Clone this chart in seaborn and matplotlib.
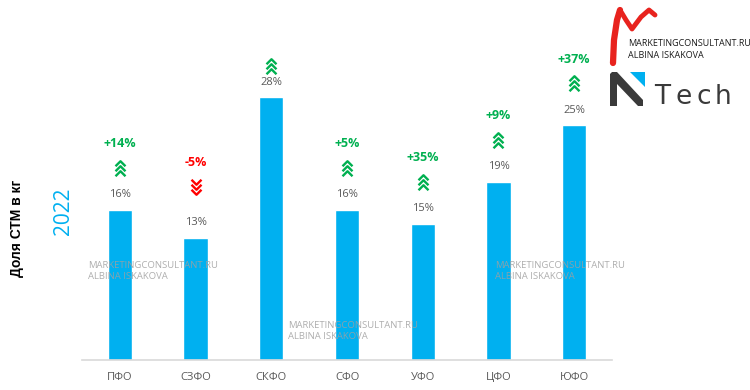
import matplotlib
matplotlib.use("Agg")
import matplotlib.pyplot as plt
import matplotlib.transforms as mtransforms
from matplotlib.path import Path
from matplotlib.lines import Line2D
from matplotlib.patches import Polygon
import seaborn as sns
import pandas as pd

# ---- data ----
regions = ["ПФО", "СЗФО", "СКФО", "СФО", "УФО", "ЦФО", "ЮФО"]
shares = [16, 13, 28, 16, 14.5, 19, 25]
share_labels = ["16%", "13%", "28%", "16%", "15%", "19%", "25%"]
changes = ["+14%", "-5%", None, "+5%", "+35%", "+9%", "+37%"]
directions = ["up", "down", "up", "up", "up", "up", "up"]

BLUE = "#00B0F0"
GREEN = "#00B050"
RED = "#FF0000"
GRAY = "#595959"

sns.set_theme(style="white")
plt.rcParams["font.family"] = ["Open Sans", "DejaVu Sans"]

W, H = 750, 390
fig = plt.figure(figsize=(W / 100, H / 100), dpi=100)
ax = fig.add_axes([82 / W, 30 / H, 530 / W, 340 / H])

df = pd.DataFrame({"region": regions, "share": shares})
sns.barplot(data=df, x="region", y="share", color=BLUE, saturation=1,
            width=0.32, ax=ax)
ax.set_xlim(-0.5, len(regions) - 0.5)
ax.set_ylim(0, 340 / 9.39)
ax.set_xlabel("")
ax.set_ylabel("")
ax.set_yticks([])
for s in ["top", "left", "right"]:
    ax.spines[s].set_visible(False)
ax.spines["bottom"].set_color("#D9D9D9")
ax.spines["bottom"].set_linewidth(1.2)
ax.tick_params(axis="x", length=0, pad=9, labelsize=8, labelcolor=GRAY)

PX = 0.72  # points per pixel

up_path = Path([(-1, -0.55), (0, 0.45), (1, -0.55)],
               [Path.MOVETO, Path.LINETO, Path.LINETO])
down_path = Path([(-1, 0.55), (0, -0.45), (1, 0.55)],
                 [Path.MOVETO, Path.LINETO, Path.LINETO])


def draw_chevrons(x, y, off_px, direction):
    color = GREEN if direction == "up" else RED
    path = up_path if direction == "up" else down_path
    for d in (-5, 0, 5):
        tr = mtransforms.offset_copy(ax.transData, fig=fig,
                                     y=(off_px + d) * PX, units="points")
        ax.plot([x], [y], marker=path, markersize=10 * PX, linestyle="none",
                markerfacecolor="none", markeredgecolor=color,
                markeredgewidth=1.7, transform=tr, clip_on=False)


for i, (v, lab, ch, dr) in enumerate(zip(shares, share_labels, changes, directions)):
    ax.annotate(lab, xy=(i, v), xytext=(0, 15 * PX), textcoords="offset points",
                ha="center", va="center", fontsize=8, color=GRAY)
    if ch is None:
        arrow_off = 31
    else:
        arrow_off = 42 if dr == "up" else 51
        ch_off = arrow_off + 24
        ax.annotate(ch, xy=(i, v), xytext=(0, ch_off * PX), textcoords="offset points",
                    ha="center", va="center", fontsize=9, fontweight="bold",
                    color=GREEN if dr == "up" else RED)
    draw_chevrons(i, v, arrow_off, dr)

# left side labels
fig.text(17 / W, 1 - 228 / H, "Доля СТМ в кг", rotation=90, ha="center", va="center",
         fontsize=10, fontweight="bold", color="black",
         family=["Liberation Sans", "DejaVu Sans"])
fig.text(63 / W, 1 - 211 / H, "2022", rotation=90, ha="center", va="center",
         fontsize=15, color=BLUE)

# watermarks
wm = "MARKETINGCONSULTANT.RU\nALBINA ISKAKOVA"
for (px, py) in [(88, 271), (288, 331), (495, 271)]:
    fig.text(px / W, 1 - py / H, wm, ha="left", va="center", fontsize=6.8,
             color="#A0A0A0", alpha=0.85, linespacing=1.3, zorder=10)

# logo: red "M"
fig.add_artist(Line2D([x / W for x in [613, 614, 617, 620]],
                      [1 - y / H for y in [63, 40, 20, 10]],
                      color="#E8231E", linewidth=4.5, solid_capstyle="round"))
fig.add_artist(Line2D([x / W for x in [620, 626, 632, 641, 649, 655]],
                      [1 - y / H for y in [10, 20, 29, 17, 10, 15]],
                      color="#E8231E", linewidth=3.5, solid_capstyle="round",
                      solid_joinstyle="round"))
fig.text(628 / W, 1 - 43 / H, "MARKETINGCONSULTANT.RU", ha="left", va="center",
         fontsize=6.5, color="#1a1a1a")
fig.text(628 / W, 1 - 56 / H, "ALBINA ISKAKOVA", ha="left", va="center",
         fontsize=6.5, color="#1a1a1a")
# logo: "N" + Tech
n_pts = [(610, 106), (610, 74), (612, 72), (617, 72), (643, 100), (643, 106),
         (638, 106), (617, 84), (617, 106)]
fig.add_artist(Polygon([(x / W, 1 - y / H) for x, y in n_pts], closed=True,
                       facecolor="#3A3A3A", edgecolor="none"))
tri = [(630, 72), (645, 72), (645, 87)]
fig.add_artist(Polygon([(x / W, 1 - y / H) for x, y in tri], closed=True,
                       facecolor=BLUE, edgecolor="none"))
for ch_, cx in zip("Tech", [662, 684, 704, 723]):
    fig.text(cx / W, 1 - 97 / H, ch_, ha="center", va="center", fontsize=19,
             fontweight="normal", color="#3A3A3A",
             family=["DejaVu Sans"])

fig.savefig("out.png", dpi=100)
